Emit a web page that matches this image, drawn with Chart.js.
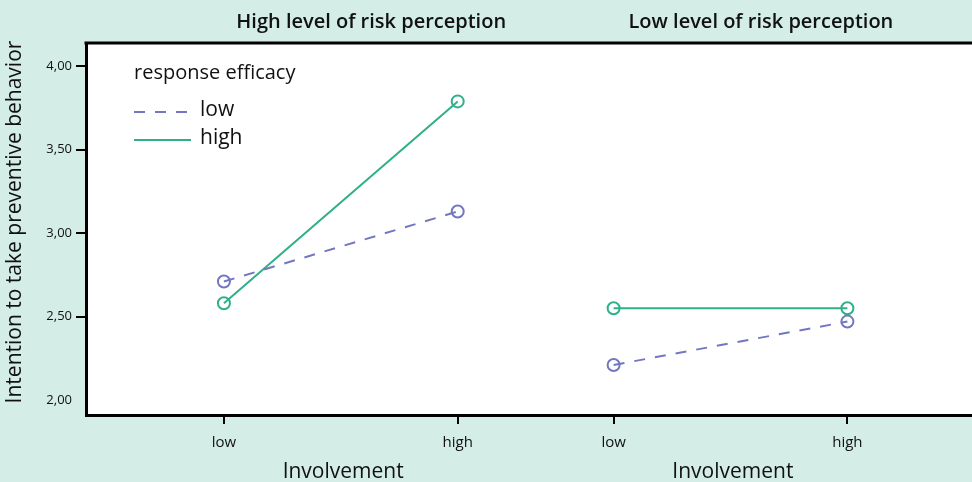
<!DOCTYPE html>
<html lang="en">
<head>
<meta charset="utf-8">
<title>Intention to take preventive behavior</title>
<script src="https://cdn.jsdelivr.net/npm/chart.js"></script>
<style>
  html, body { margin: 0; padding: 0; background: #d4ede6; }
  #wrap { width: 972px; height: 482px; }
</style>
</head>
<body>
<div id="wrap"><canvas id="myChart" width="972" height="482"></canvas></div>
<script>
// data
var panels = ["High level of risk perception", "Low level of risk perception"];
var involvement = ["low", "high"];
var efficacy = ["low", "high"];
// values per panel: [low involvement, high involvement]
var lowEfficacy = [[2.71, 3.13], [2.21, 2.47]];
var highEfficacy = [[2.58, 3.79], [2.55, 2.55]];
var yTicks = [2.0, 2.5, 3.0, 3.5, 4.0];

var PANEL_STEP = 1.667; // distance between panel starts in x units
var purple = "#7377c0";
var green = "#2fb088";
var font = "'Open Sans', 'Noto Sans', sans-serif";

function toPoints(series) {
  var pts = [];
  series.forEach(function (vals, p) {
    vals.forEach(function (v, i) {
      pts.push({ x: p * PANEL_STEP + i, y: v });
    });
    pts.push({ x: p * PANEL_STEP + 1.5, y: null }); // break between panels
  });
  return pts;
}

var xTickVals = [];
var xTickLabels = {};
panels.forEach(function (name, p) {
  involvement.forEach(function (lab, i) {
    var v = p * PANEL_STEP + i;
    xTickVals.push(v);
    xTickLabels[v.toFixed(3)] = lab;
  });
});

var extras = {
  id: "extras",
  beforeDraw: function (chart) {
    var a = chart.chartArea;
    chart.ctx.save();
    chart.ctx.fillStyle = "#ffffff";
    chart.ctx.fillRect(a.left, a.top, a.right - a.left, a.bottom - a.top);
    chart.ctx.restore();
  },
  afterDraw: function (chart) {
    var ctx = chart.ctx, a = chart.chartArea, xs = chart.scales.x;
    ctx.save();
    // top border
    ctx.strokeStyle = "#000";
    ctx.lineWidth = 3;
    ctx.beginPath();
    ctx.moveTo(a.left - 1.5, a.top);
    ctx.lineTo(a.right, a.top);
    ctx.stroke();

    ctx.fillStyle = "#111";
    ctx.textAlign = "center";
    ctx.textBaseline = "middle";
    panels.forEach(function (name, p) {
      ctx.font = "600 20px " + font;
      ctx.fillText(name, xs.getPixelForValue(p * PANEL_STEP + 0.63), 22);
      ctx.font = "21px " + font;
      ctx.fillText("Involvement", xs.getPixelForValue(p * PANEL_STEP + 0.51), 472);
    });

    // y title
    ctx.save();
    ctx.translate(15, 222);
    ctx.rotate(-Math.PI / 2);
    ctx.font = "500 21px " + font;
    ctx.fillText("Intention to take preventive behavior", 0, 0);
    ctx.restore();

    // legend
    ctx.textAlign = "left";
    ctx.font = "20px " + font;
    ctx.fillText("response efficacy", 134, 73);
    chart.data.datasets.forEach(function (ds, k) {
      var y = 112 + k * 28;
      ctx.strokeStyle = ds.borderColor;
      ctx.lineWidth = 2;
      ctx.setLineDash(ds.borderDash || []);
      ctx.beginPath();
      ctx.moveTo(134, y);
      ctx.lineTo(191, y);
      ctx.stroke();
      ctx.setLineDash([]);
      ctx.font = "21px " + font;
      ctx.fillStyle = "#111";
      ctx.fillText(ds.label, 200, y - 2);
    });
    ctx.restore();
  }
};

new Chart("myChart", {
  type: "line",
  data: {
    datasets: [
      {
        label: efficacy[0],
        data: toPoints(lowEfficacy),
        borderColor: purple,
        borderWidth: 2,
        borderDash: [11, 10],
        pointRadius: 6,
        pointBorderWidth: 2,
        pointBorderColor: purple,
        pointBackgroundColor: "rgba(0,0,0,0)",
        spanGaps: false
      },
      {
        label: efficacy[1],
        data: toPoints(highEfficacy),
        borderColor: green,
        borderWidth: 2,
        pointRadius: 6,
        pointBorderWidth: 2,
        pointBorderColor: green,
        pointBackgroundColor: "rgba(0,0,0,0)",
        spanGaps: false
      }
    ]
  },
  options: {
    responsive: false,
    animation: false,
    layout: { autoPadding: false, padding: { top: 43, right: 0, left: 0, bottom: 0 } },
    plugins: { legend: { display: false }, tooltip: { enabled: false } },
    scales: {
      x: {
        type: "linear",
        min: -0.59,
        max: 3.2,
        afterBuildTicks: function (s) {
          s.ticks = xTickVals.map(function (v) { return { value: v }; });
        },
        afterFit: function (s) {
          s.height = 67;
          s.paddingLeft = 0;
          s.paddingRight = 0;
        },
        ticks: {
          padding: 10,
          color: "#111",
          font: { family: font, size: 15 },
          callback: function (v) { return xTickLabels[Number(v).toFixed(3)]; }
        },
        grid: { drawOnChartArea: false, drawTicks: true, tickLength: 9, color: "#000", lineWidth: 2 },
        border: { display: true, color: "#000", width: 3 }
      },
      y: {
        min: 1.91,
        max: 4.14,
        afterBuildTicks: function (s) {
          s.ticks = yTicks.map(function (v) { return { value: v }; });
        },
        afterFit: function (s) {
          s.width = 86;
          s.paddingTop = 0;
          s.paddingBottom = 0;
        },
        ticks: {
          padding: 4,
          color: "#111",
          font: { family: font, size: 13 },
          callback: function (v) { return Number(v).toFixed(2).replace(".", ","); }
        },
        grid: {
          drawOnChartArea: false,
          drawTicks: true,
          tickLength: 10,
          lineWidth: 2,
          color: function (c) { return c.tick && c.tick.value === 2 ? "rgba(0,0,0,0)" : "#000"; }
        },
        border: { display: true, color: "#000", width: 3 }
      }
    }
  },
  plugins: [extras]
});
</script>
</body>
</html>
